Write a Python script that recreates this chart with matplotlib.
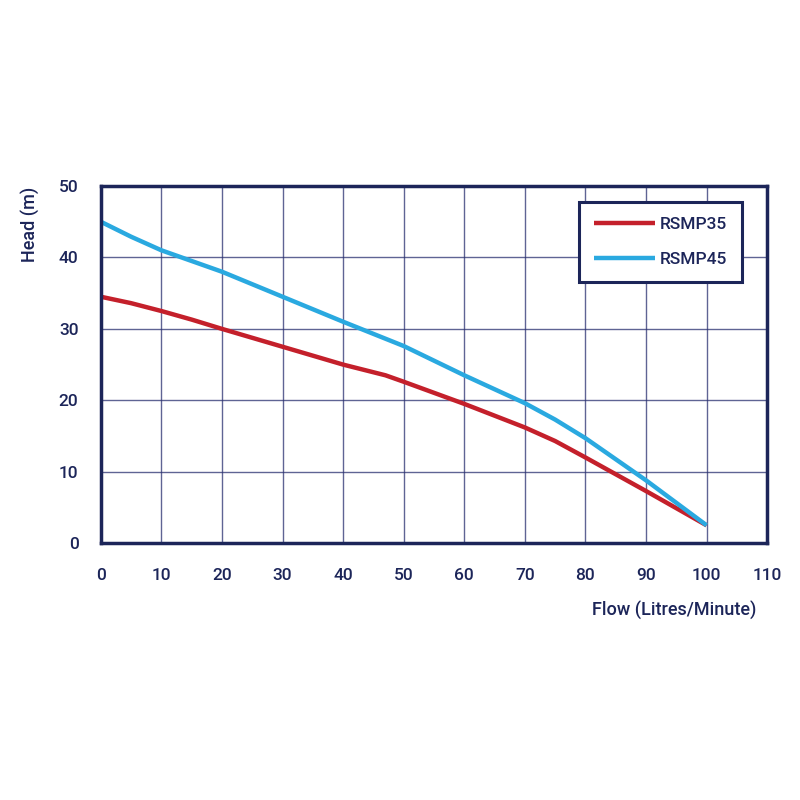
import matplotlib
matplotlib.use("Agg")
import matplotlib.pyplot as plt

flow_35 = [0, 5, 10, 15, 20, 30, 40, 47, 50, 60, 70, 75, 80, 90, 100]
head_35 = [34.5, 33.6, 32.5, 31.3, 30.0, 27.5, 25.0, 23.5, 22.6, 19.5, 16.2, 14.3, 12.0, 7.3, 2.5]
flow_45 = [0, 5, 10, 15, 20, 30, 40, 50, 60, 70, 75, 80, 90, 100]
head_45 = [45.0, 42.9, 41.0, 39.5, 38.0, 34.5, 31.0, 27.6, 23.5, 19.6, 17.3, 14.7, 8.8, 2.5]
series_names = ["RSMP35", "RSMP45"]
x_ticks = list(range(0, 111, 10))
y_ticks = list(range(0, 51, 10))

navy = "#1c2559"
red = "#c4202b"
blue = "#2aa9e0"

plt.rcParams['font.family'] = ['Roboto', 'DejaVu Sans']

fig = plt.figure(figsize=(8, 8), dpi=100)
ax = fig.add_axes([0.126, 0.321, 0.833, 0.4465])
ax.plot(flow_35, head_35, color=red, lw=3.2, label=series_names[0], solid_capstyle='butt')
ax.plot(flow_45, head_45, color=blue, lw=3.2, label=series_names[1], solid_capstyle='butt')

ax.set_xlim(0, 110)
ax.set_ylim(0, 50)
ax.set_xticks(x_ticks)
ax.set_yticks(y_ticks)
ax.grid(True, color="#2a3070", lw=1.0, alpha=0.75)
ax.set_axisbelow(True)
for s in ax.spines.values():
    s.set_color(navy)
    s.set_linewidth(2.5)
ax.tick_params(axis='x', length=0, pad=18, labelsize=12.5, colors=navy)
ax.tick_params(axis='y', length=0, pad=16, labelsize=12.5, colors=navy)
for lbl in ax.get_xticklabels() + ax.get_yticklabels():
    lbl.set_fontweight('medium')

fig.text(0.038, 0.767, "Head (m)", rotation=90, ha='center', va='top',
         fontsize=13, color=navy, fontweight='medium')
fig.text(0.946, 0.237, "Flow (Litres/Minute)", ha='right', va='center',
         fontsize=13, color=navy, fontweight='medium')

leg = ax.legend(loc='upper right', bbox_to_anchor=(0.962, 0.955), frameon=True,
                fancybox=False, fontsize=12.5, handlelength=3.5, handletextpad=0.3,
                labelspacing=1.15, borderpad=0.85, borderaxespad=0, framealpha=1)
leg.get_frame().set_edgecolor(navy)
leg.get_frame().set_linewidth(2.2)
for t in leg.get_texts():
    t.set_color(navy)
    t.set_fontweight('medium')

fig.savefig("out.png", dpi=100)
